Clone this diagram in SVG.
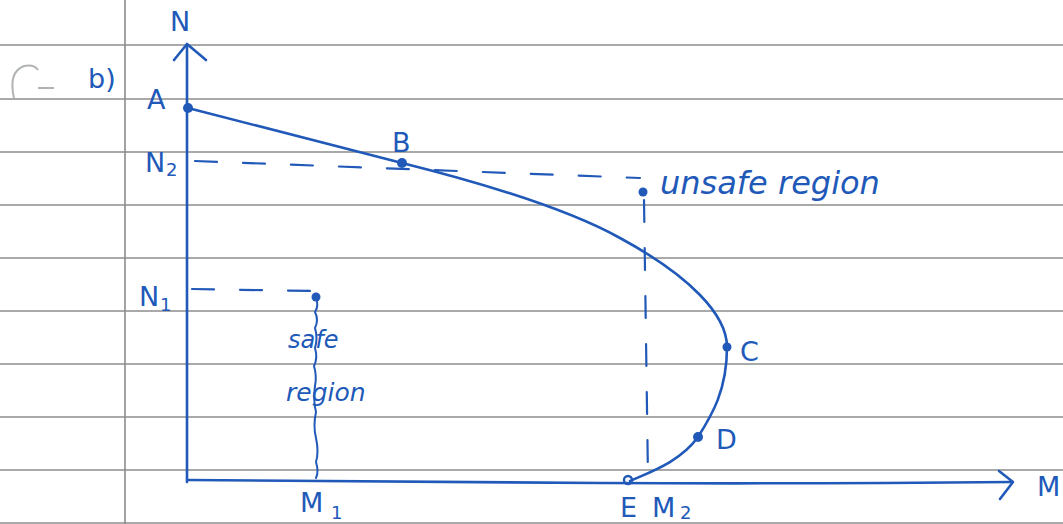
<svg xmlns="http://www.w3.org/2000/svg" width="1063" height="524" viewBox="0 0 1063 524">
<style>
.rule{stroke:#8c8c8c;stroke-width:1.6;fill:none}
.ink{stroke:#2159b9;stroke-width:2.6;fill:none;stroke-linecap:round;stroke-linejoin:round}
.thin{stroke:#2159b9;stroke-width:2;fill:none;stroke-linecap:round}
.dash{stroke:#2159b9;stroke-width:2.2;fill:none;stroke-dasharray:22 26;stroke-linecap:round}
.dot{fill:#2159b9}
.lbl{font-family:"DejaVu Sans","Liberation Sans",sans-serif;fill:#2159b9;font-size:27px}
.sub{font-family:"DejaVu Sans","Liberation Sans",sans-serif;fill:#2159b9;font-size:18px}
.hand{font-family:"DejaVu Sans","Liberation Sans",sans-serif;fill:#2159b9;font-style:italic}
</style>
<rect width="1063" height="524" fill="#ffffff"/>
<g id="paper">
<line class="rule" x1="0" y1="45" x2="1063" y2="45"/>
<line class="rule" x1="0" y1="99" x2="1063" y2="99"/>
<line class="rule" x1="0" y1="152" x2="1063" y2="152"/>
<line class="rule" x1="0" y1="205" x2="1063" y2="205"/>
<line class="rule" x1="0" y1="258" x2="1063" y2="258"/>
<line class="rule" x1="0" y1="311" x2="1063" y2="311"/>
<line class="rule" x1="0" y1="364" x2="1063" y2="364"/>
<line class="rule" x1="0" y1="417" x2="1063" y2="417"/>
<line class="rule" x1="0" y1="470" x2="1063" y2="470"/>
<line class="rule" x1="0" y1="523" x2="1063" y2="523"/>
<line class="rule" x1="125" y1="0" x2="125" y2="524"/>
<path d="M14 98 Q8 72 24 66 Q34 64 38 70" stroke="#b0b4b0" stroke-width="2" fill="none"/>
<path d="M38 88 L54 88" stroke="#b0b4b0" stroke-width="2" fill="none"/>
</g>
<g id="axes">
<path class="ink" d="M187 46 L187 482"/>
<path class="ink" d="M174 60 L187 44 L206 60"/>
<path class="ink" d="M188 480 Q400 482 600 483 Q800 484 1012 482"/>
<path class="ink" d="M999 471 L1013 482 L1000 499"/>
</g>
<g id="connectors">
<path class="dash" d="M195 161 L640 178"/>
<path class="dash" d="M644 200 L648 478"/>
<path class="dash" d="M192 289 L315 291"/>
<path class="thin" d="M316 298 q3 8 -1 14 q4 8 0 16 q3 10 0 20 q3 10 -1 18 q3 10 1 20 q-2 14 1 26 q-3 14 0 26 q3 14 0 24 q3 10 0 16"/>
</g>
<g id="curve">
<path class="ink" d="M188 108 L402 163 C470 180 560 205 620 238 C690 276 727 315 727 347 C727 390 712 415 698 437 C680 462 650 472 630 481"/>
</g>
<g id="points">
<circle class="dot" cx="188" cy="108" r="5"/>
<circle class="dot" cx="402" cy="163" r="5"/>
<circle class="dot" cx="316" cy="297" r="4.5"/>
<circle class="dot" cx="643" cy="192" r="4.5"/>
<circle class="dot" cx="727" cy="347" r="4.5"/>
<circle class="dot" cx="698" cy="437" r="5"/>
<circle cx="628" cy="480" r="4" fill="none" stroke="#2159b9" stroke-width="2.4"/>
</g>
<g id="labels">
<text class="lbl" x="180" y="31" text-anchor="middle">N</text>
<text class="lbl" x="88" y="88" font-size="32">b)</text>
<text class="lbl" x="147" y="109">A</text>
<text class="lbl" x="392" y="152">B</text>
<text class="lbl" x="145" y="172">N</text>
<text class="sub" x="166" y="176">2</text>
<text class="lbl" x="139" y="306">N</text>
<text class="sub" x="160" y="311">1</text>
<text class="hand" x="288" y="348" font-size="24">safe</text>
<text class="hand" x="286" y="401" font-size="25">region</text>
<text class="hand" x="660" y="194" font-size="32">unsafe region</text>
<text class="lbl" x="740" y="361" font-size="29">C</text>
<text class="lbl" x="716" y="449">D</text>
<text class="lbl" x="620" y="517">E</text>
<text class="lbl" x="652" y="517">M</text>
<text class="sub" x="680" y="519">2</text>
<text class="lbl" x="1037" y="496" font-size="31">M</text>
<text class="lbl" x="300" y="512">M</text>
<text class="sub" x="331" y="519">1</text>
</g>
</svg>
